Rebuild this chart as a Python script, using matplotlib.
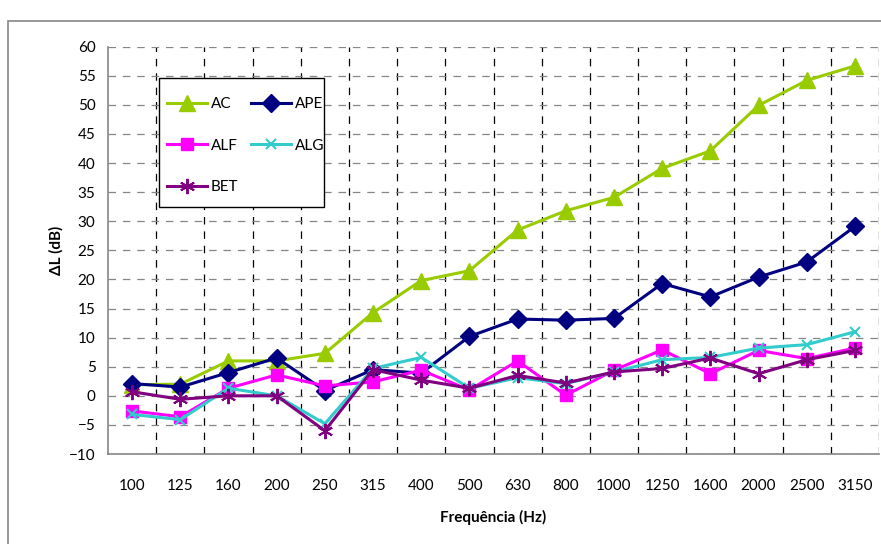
import matplotlib
matplotlib.use("Agg")
import matplotlib.pyplot as plt
from matplotlib.patches import Rectangle

plt.rcParams['font.family'] = ['Lato', 'DejaVu Sans']

freqs = ["100", "125", "160", "200", "250", "315", "400", "500", "630", "800",
         "1000", "1250", "1600", "2000", "2500", "3150"]
ac = [1.9, 2.0, 6.0, 6.0, 7.3, 14.3, 19.8, 21.5, 28.5, 31.8, 34.1, 39.1, 42.1, 49.9, 54.2, 56.7]
ape = [2.1, 1.5, 4.0, 6.5, 0.9, 4.5, 3.9, 10.2, 13.2, 13.0, 13.3, 19.3, 17.0, 20.4, 23.0, 29.1]
alf = [-2.6, -3.6, 1.3, 3.6, 1.7, 2.4, 4.4, 1.0, 6.0, 0.1, 4.4, 7.9, 3.8, 7.8, 6.4, 8.2]
alg = [-3.2, -4.1, 1.3, 0.0, -4.8, 4.7, 6.6, 1.3, 3.1, 2.1, 4.1, 6.2, 6.6, 8.2, 8.8, 11.0]
bet = [0.7, -0.6, 0.0, 0.0, -6.0, 4.5, 2.7, 1.3, 3.5, 2.2, 4.1, 4.7, 6.5, 3.8, 6.2, 7.8]

W, H = 881, 544
fig = plt.figure(figsize=(W / 100, H / 100), dpi=100)
ax = fig.add_axes([108 / W, 1 - 454 / H, (879 - 108) / W, (454 - 46.7) / H])

x = list(range(len(freqs)))
lw = 2.2
l_ac, = ax.plot(x, ac, color='#99CC00', lw=lw, marker='^', ms=11, label='AC', zorder=3)
l_ape, = ax.plot(x, ape, color='#000080', lw=lw, marker='D', ms=9, label='APE', zorder=4)
l_alf, = ax.plot(x, alf, color='#FF00FF', lw=lw, marker='s', ms=9, label='ALF', zorder=5)
l_alg, = ax.plot(x, alg, color='#33CCCC', lw=lw, marker='x', ms=7, mew=1.5, label='ALG', zorder=6)
l_bet, = ax.plot(x, bet, color='#800080', lw=lw, marker=(6, 2, 0), ms=11, mew=1.4, label='BET', zorder=7)

ax.set_xlim(-0.5, len(freqs) - 0.5)
ax.set_ylim(-10, 60)
ax.set_yticks(range(-10, 61, 5))
ax.set_xticks(x)
ax.set_xticklabels(freqs)
ax.set_xticks([i + 0.5 for i in x], minor=True)
ax.tick_params(axis='both', which='both', length=0, labelsize=11, colors='black')
ax.tick_params(axis='x', which='major', pad=18)
ax.tick_params(axis='y', which='major', pad=9)

ax.grid(which='major', axis='y', color='#868686', lw=0.9, linestyle=(0, (6, 5.5)))
ax.grid(which='minor', axis='x', color='black', lw=0.9, linestyle=(0, (6, 5.5)))
ax.set_axisbelow(True)

for s in ['top', 'right']:
    ax.spines[s].set_visible(False)
for s in ['left', 'bottom']:
    ax.spines[s].set_color('#868686')
    ax.spines[s].set_linewidth(1.2)

ax.set_ylabel('\u0394L (dB)', fontsize=11, fontweight='bold', labelpad=4)
ax.set_xlabel('Frequência (Hz)', fontsize=11, fontweight='bold', labelpad=12)

# legend box (drawn separately to match the reference padding)
ax.add_patch(Rectangle((159 / W, 1 - 207 / H), (324 - 159) / W, (207 - 78) / H,
                       transform=fig.transFigure, facecolor='white',
                       edgecolor='black', lw=1.0, zorder=9, clip_on=False))

leg = ax.legend(handles=[l_ac, l_alf, l_bet, l_ape, l_alg], ncol=2,
                loc='upper left', bbox_to_anchor=(167 / W, 1 - 97 / H),
                bbox_transform=fig.transFigure, borderaxespad=0,
                fontsize=11, handlelength=2.6, handletextpad=0.25,
                columnspacing=0.85, labelspacing=1.8, borderpad=0,
                frameon=False)
leg.set_zorder(10)

fig.patches.append(Rectangle((8 / W, -0.1), 1.2, (H - 21) / H + 0.1,
                             transform=fig.transFigure, fill=False,
                             edgecolor='#868686', lw=1.2))

fig.savefig('out.png', dpi=100)
